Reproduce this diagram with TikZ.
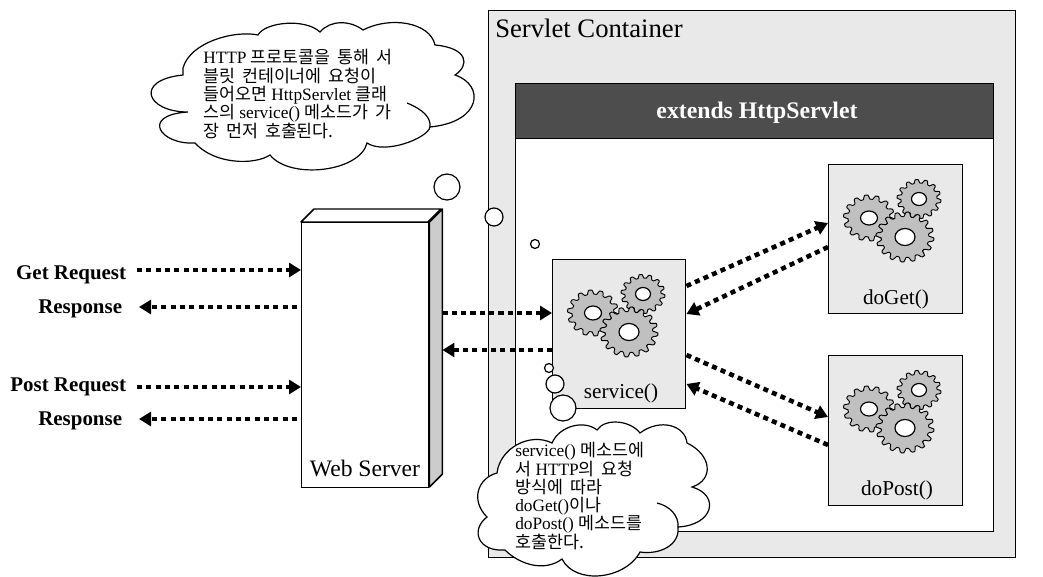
\documentclass[tikz,border=0pt]{standalone}
\usepackage{fontspec}
\setmainfont{Liberation Serif}
\newfontfamily\kr[WordSpace=1.8]{Noto Sans CJK KR}
\usetikzlibrary{arrows.meta,positioning,calc}
\definecolor{PanelGray}{HTML}{E9E9E9}
\definecolor{HeadGray}{HTML}{4D4D4D}
\definecolor{SideGray}{HTML}{CCCCCC}
\definecolor{GearGray}{HTML}{C0C0C0}

% one toothed wheel: cx, cy, rx, ry, hole rx, hole ry, teeth
\newcommand{\gearwheel}[7]{
    \filldraw[draw=black,fill=GearGray,line width=0.7pt,line join=round]
        plot[domain=0:360,samples=145,variable=\t]
        ({#1+#3*(0.91+0.09*max(-1,min(1,1.7*sin(#7*\t))))*cos(\t)},
         {#2+#4*(0.91+0.09*max(-1,min(1,1.7*sin(#7*\t))))*sin(\t)}) -- cycle;
    \filldraw[draw=black,fill=white,line width=0.9pt] (#1,#2) ellipse [x radius=#5,y radius=#6];
}

\tikzset{
    panel/.style={draw=black,line width=1.1pt,fill=PanelGray,anchor=north west,inner sep=0pt},
    dotarrow/.style={line width=3.4pt,dash pattern=on 3.8pt off 3.2pt,-{Triangle[length=9pt,width=10.5pt]}},
    reqlabel/.style={font=\fontsize{15.7}{18}\selectfont\bfseries,anchor=base east,inner ysep=0pt},
    boxlabel/.style={font=\fontsize{15.9}{18}\selectfont,inner sep=0pt},
    cloudtext/.style={font=\fontsize{13}{13.7}\selectfont,align=left,anchor=west,inner sep=0pt},
    cloudline/.style={draw=black,fill=white,line width=0.9pt},
    bubble/.style={draw=black,fill=white,line width=0.9pt},
    gears/.pic={
        \gearwheel{91}{35}{22}{19.5}{7.5}{6.5}{14}
        \gearwheel{41}{54}{25.5}{23}{8.5}{7}{14}
        \gearwheel{77}{73}{29}{25}{10}{8.5}{16}
    }
}

\begin{document}
\begin{tikzpicture}[x=0.75pt,y=-0.75pt]

    \useasboundingbox (0,0) rectangle (1043,577);

    % servlet container
    \node[panel,minimum width=527*0.75pt,minimum height=547*0.75pt] (container) at (488,10) {};
    \node[font=\fontsize{20}{22}\selectfont,anchor=west,inner sep=0pt] (containertitle) at (495,28) {Servlet Container};
    \node[panel,fill=white,minimum width=478*0.75pt,minimum height=448*0.75pt] (servlet) at (515,83) {};
    \node[panel,fill=HeadGray,minimum width=478*0.75pt,minimum height=55*0.75pt] (servlethead) at (515,83) {};
    \node[text=white,font=\fontsize{17.8}{20}\selectfont\bfseries,inner sep=0pt] (headtitle) at (757,113) {extends HttpServlet};

    % method boxes
    \node[panel,minimum width=133*0.75pt,minimum height=149*0.75pt] (service) at (552,259) {};
    \node[panel,minimum width=134*0.75pt,minimum height=149*0.75pt] (doget) at (828,164) {};
    \node[panel,minimum width=134*0.75pt,minimum height=150*0.75pt] (dopost) at (828,355) {};
    \pic at (service.north west) {gears};
    \pic at (doget.north west) {gears};
    \pic at (dopost.north west) {gears};
    \node[boxlabel] (servicelabel) at (621,393) {service()};
    \node[boxlabel] (dogetlabel) at (896,299) {doGet()};
    \node[boxlabel] (dopostlabel) at (897,490) {doPost()};

    % web server block
    \node[panel,fill=white,minimum width=127*0.75pt,minimum height=265*0.75pt] (server) at (301,222) {};
    \filldraw[draw=black,fill=white,line width=1.1pt,line join=round]
        (server.north west) -- ++(13,-13) -- ++(127,0) -- ++(-13,13) -- cycle;
    \filldraw[draw=black,fill=SideGray,line width=1.1pt,line join=round]
        (server.north east) -- ++(13,-13) -- ++(0,265) -- ++(-13,13) -- cycle;
    \node[font=\fontsize{17.7}{20}\selectfont,inner sep=0pt] (serverlabel) at (365,468) {Web Server};
    \coordinate (serverside) at ($(server.north east)+(13,0)$);

    % request and response labels
    \node[reqlabel,inner xsep=8pt] (getreq) at (137,280) {Get Request};
    \node[reqlabel,inner xsep=12.5pt] (getres) at (139,314) {Response};
    \node[reqlabel,inner xsep=8pt] (postreq) at (137,392) {Post Request};
    \node[reqlabel,inner xsep=12.5pt] (postres) at (139,426) {Response};

    \coordinate (getfrom) at ($(getreq.base east)+(0,-10)$);
    \coordinate (getto) at ($(getres.base east)+(0,-7)$);
    \coordinate (postfrom) at ($(postreq.base east)+(0,-5)$);
    \coordinate (postto) at ($(postres.base east)+(0,-7)$);
    \draw[dotarrow] (getfrom) -- (getfrom -| server.west);
    \draw[dotarrow,shorten <=3pt] (getto -| server.west) -- (getto);
    \draw[dotarrow] (postfrom) -- (postfrom -| server.west);
    \draw[dotarrow,shorten <=3pt] (postto -| server.west) -- (postto);

    % server to service
    \coordinate (servicein) at ($(service.north west)+(0,54)$);
    \coordinate (serviceout) at ($(service.north west)+(0,91)$);
    \draw[dotarrow] (servicein -| serverside) -- (servicein);
    \draw[dotarrow] (serviceout) -- (serviceout -| serverside);

    % service to doGet and doPost
    \coordinate (s1) at ($(service.north east)+(0,27)$);
    \coordinate (s2) at ($(service.north east)+(0,55)$);
    \coordinate (s3) at ($(service.north east)+(0,96)$);
    \coordinate (s4) at ($(service.north east)+(0,125)$);
    \coordinate (g1) at ($(doget.north west)+(0,59)$);
    \coordinate (g2) at ($(doget.north west)+(0,83)$);
    \coordinate (p1) at ($(dopost.north west)+(0,62)$);
    \coordinate (p2) at ($(dopost.north west)+(0,90)$);
    \draw[dotarrow] (s1) -- (g1);
    \draw[dotarrow] (g2) -- (s2);
    \draw[dotarrow] (s3) -- (p1);
    \draw[dotarrow] (p2) -- (s4);

    % upper cloud
    \draw[cloudline]
        (183,68)
        .. controls (190,42) and (235,30) .. (258,35)
        .. controls (265,22) and (305,18) .. (320,32)
        .. controls (330,20) and (350,20) .. (363,30)
        .. controls (390,16) and (430,22) .. (435,45)
        .. controls (468,48) and (470,65) .. (455,75)
        .. controls (485,85) and (482,122) .. (430,127)
        .. controls (428,138) and (385,155) .. (367,143)
        .. controls (360,172) and (290,180) .. (270,155)
        .. controls (255,165) and (215,165) .. (195,143)
        .. controls (160,145) and (140,115) .. (188,112)
        .. controls (146,112) and (134,80) .. (183,75)
        -- cycle;
    \draw[line width=0.9pt] (430,127) .. controls (431,118) and (424,110) .. (407,103);
    \node[cloudtext] (cloudtop) at (203,94) {HTTP {\kr 프로토콜을 통해 서}\\{\kr 블릿 컨테이너에 요청이}\\{\kr 들어오면} HttpServlet {\kr 클래}\\{\kr 스의} service() {\kr 메소드가 가}\\{\kr 장 먼저 호출된다.}};
    \node[bubble,circle,minimum size=26*0.75pt,inner sep=0pt] (bubbletop1) at (447,187) {};
    \node[bubble,circle,minimum size=18*0.75pt,inner sep=0pt] (bubbletop2) at (494,217) {};
    \node[bubble,circle,minimum size=9*0.75pt,inner sep=0pt] (bubbletop3) at (535,244) {};

    % lower cloud
    \node[bubble,circle,minimum size=9*0.75pt,inner sep=0pt] (bubblelow1) at (549,368) {};
    \node[bubble,circle,minimum size=18*0.75pt,inner sep=0pt] (bubblelow2) at (555,384) {};
    \node[bubble,circle,minimum size=26*0.75pt,inner sep=0pt] (bubblelow3) at (563,408) {};
    \draw[cloudline]
        (497,473)
        .. controls (500,448) and (530,432) .. (552,443)
        .. controls (560,425) and (585,420) .. (597,430)
        .. controls (605,418) and (630,420) .. (640,433)
        .. controls (660,418) and (685,425) .. (687,443)
        .. controls (712,455) and (714,480) .. (692,487)
        .. controls (720,495) and (714,525) .. (678,527)
        .. controls (680,545) and (660,555) .. (640,552)
        .. controls (625,580) and (575,585) .. (562,559)
        .. controls (545,572) and (520,565) .. (505,550)
        .. controls (478,552) and (470,530) .. (487,517)
        .. controls (470,500) and (478,478) .. (497,473)
        -- cycle;
    \draw[line width=0.9pt] (678,527) .. controls (679,516) and (670,506) .. (657,503);
    \node[cloudtext] (cloudlow) at (515,496) {service() {\kr 메소드에}\\{\kr 서} HTTP{\kr 의 요청}\\{\kr 방식에 따라}\\doGet(){\kr 이나}\\doPost() {\kr 메소드를}\\{\kr 호출한다.}};

\end{tikzpicture}
\end{document}
